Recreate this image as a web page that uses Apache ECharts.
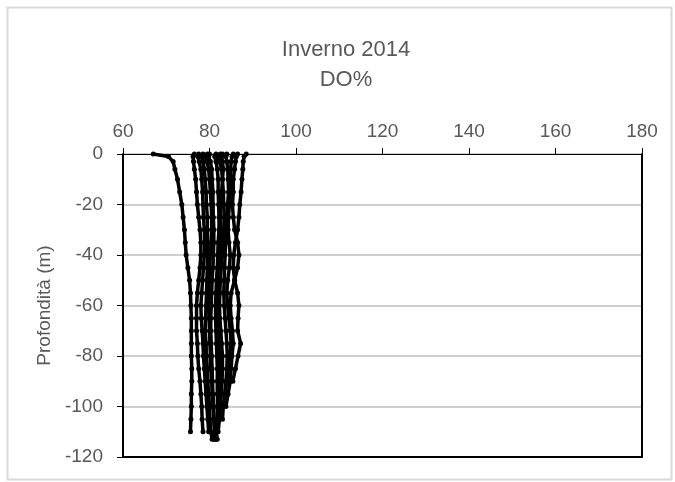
<!DOCTYPE html>
<html>
<head>
<meta charset="utf-8">
<script src="https://cdn.jsdelivr.net/npm/echarts@6/dist/echarts.min.js"></script>
<style>
  html, body { margin: 0; padding: 0; background: #fff; }
  #chart { width: 675px; height: 482px; }
</style>
</head>
<body>
<div id="chart"></div>
<script>
// profondita' (m) comuni a tutti i profili
var DEPTHS = [0, -1, -3, -6, -10, -15, -20, -25, -30, -35, -40, -45, -50, -55,
  -60, -65, -70, -75, -80, -85, -90, -95, -100, -105, -110, -113];

// DO% per profilo (un valore per profondita', fino alla fine del cast)
var P1 = [67, 70.5, 71.6, 72, 72.6, 73.1, 73.6, 73.9, 74.2, 74.4, 74.6, 75.0, 75.4, 75.6,
  75.7, 75.8, 75.8, 75.8, 75.8, 75.9, 75.9, 75.8, 75.8, 75.7, 75.6];
var P2 = [76.5, 76.2, 76.3, 76.5, 76.8, 77.0, 77.2, 77.5, 77.8, 78.0, 78.0, 77.8, 77.5, 77.2,
  77.0, 77.0, 77.0, 77.2, 77.3, 77.5, 77.8, 78.0, 78.2, 78.3, 78.5];
var P3 = [78.5, 78.2, 78.5, 78.8, 79.0, 79.2, 79.3, 79.5, 79.5, 79.6, 79.6, 79.5, 79.4, 79.3,
  79.2, 79.1, 79.0, 79.2, 79.3, 79.5, 79.6, 79.8, 80.0, 80.1, 80.3, 80.6];
var P4 = [80.0, 79.8, 80.2, 80.5, 80.6, 80.8, 80.8, 80.9, 81.0, 81.0, 80.9, 80.8, 80.6, 80.5,
  80.4, 80.3, 80.3, 80.4, 80.5, 80.6, 80.7, 80.8, 81.0, 81.0, 81.2, 81.4];
var P5 = [81.5, 81.2, 81.5, 81.8, 82.0, 82.0, 82.1, 82.2, 82.2, 82.0, 81.9, 81.8, 81.6, 81.5,
  81.4, 81.4, 81.5, 81.6, 81.7, 81.8, 81.8, 81.8, 81.9, 81.8, 81.6, 81.5];
var P6 = [82.5, 82.0, 82.3, 82.8, 83.0, 83.2, 83.3, 83.4, 83.3, 83.1, 82.9, 82.7, 82.5, 82.4,
  82.3, 82.4, 82.6, 82.8, 83.0, 83.0, 82.9, 82.7, 82.5, 82.3, 82.0];
var P7 = [84.0, 83.8, 84.0, 84.2, 84.3, 84.4, 84.2, 84.0, 83.8, 83.7, 83.6, 83.5, 83.4, 83.3,
  83.4, 83.6, 83.8, 84.0, 84.1, 84.0, 83.8, 83.5, 83.2, 83.0];
var P8 = [88.5, 88.0, 87.8, 87.7, 87.5, 87.3, 87.0, 86.8, 86.5, 86.0, 85.6, 85.5, 85.8, 86.5,
  86.8, 86.6, 86.5, 87.2, 86.6, 86.0, 85.4];
var P9 = [86.5, 86.2, 86.0, 85.8, 85.5, 85.5, 85.3, 85.5, 85.8, 86.5, 86.8, 86.5, 85.8, 85.0,
  84.8, 85.0, 85.3, 85.5, 85.2, 85.0, 84.8, 84.3, 83.8];
var P10 = [79.5, 79.0, 79.4, 79.8, 80.0, 80.2, 80.4, 80.5, 80.5, 80.4, 80.2, 80.0, 79.9, 79.8,
  79.8, 79.9, 80.0, 80.1, 80.2, 80.3, 80.5, 80.6, 80.8, 81.0, 81.2, 81.0];
var P11 = [83.0, 82.8, 83.0, 83.2, 83.0, 82.8, 82.6, 82.5, 82.6, 82.5, 82.3, 82.2, 82.0, 82.0,
  81.9, 82.0, 82.2, 82.3, 82.4, 82.3, 82.2, 82.1, 82.0, 81.8, 81.6, 81.8];
var P12 = [77.5, 77.3, 77.6, 78.0, 78.2, 78.4, 78.5, 78.6, 78.8, 78.9, 78.8, 78.6, 78.4, 78.2,
  78.0, 78.1, 78.3, 78.5, 78.6, 78.8, 79.0, 79.2, 79.4, 79.6, 79.8];
var P13 = [85.5, 85.2, 85.0, 84.9, 84.8, 84.8, 84.6, 84.4, 84.3, 84.5, 84.8, 84.6, 84.2, 84.0,
  84.2, 84.5, 84.8, 85.0, 84.6, 84.3, 84.0, 83.6];

var PROFILES = [P1, P2, P3, P4, P5, P6, P7, P8, P9, P10, P11, P12, P13];

var X_TICKS = [60, 80, 100, 120, 140, 160, 180];
var Y_TICKS = [0, -20, -40, -60, -80, -100, -120];

var FONT = "'Liberation Sans Narrow', 'Arial Narrow', 'Liberation Sans', sans-serif";
var TXT = '#595959';

var series = PROFILES.map(function (vals, i) {
  return {
    name: 'P' + (i + 1),
    type: 'line',
    xAxisIndex: 0,
    yAxisIndex: 0,
    symbol: 'circle',
    symbolSize: 5,
    showAllSymbol: true,
    itemStyle: { color: '#000' },
    lineStyle: { color: '#000', width: 3.5 },
    data: vals.map(function (v, k) { return [v, DEPTHS[k]]; })
  };
});

var chart = echarts.init(document.getElementById('chart'), null, { renderer: 'canvas' });
chart.setOption({
  animation: false,
  backgroundColor: '#fff',
  title: {
    text: 'Inverno 2014\nDO%',
    left: 341, top: 30, textAlign: 'center',
    textStyle: { fontFamily: FONT, fontSize: 22, fontWeight: 'normal', color: TXT, lineHeight: 30 }
  },
  graphic: [{
    type: 'rect', left: 5, top: 5, z: -1,
    shape: { width: 664, height: 472 },
    style: { fill: 'none', stroke: '#d9d9d9', lineWidth: 2 }
  }],
  grid: { left: 123, top: 154, right: 33, bottom: 25, containLabel: false },
  xAxis: [{
    type: 'value', position: 'top', min: X_TICKS[0], max: X_TICKS[X_TICKS.length - 1], interval: 20,
    axisLine: { show: true, onZero: false, lineStyle: { color: '#000', width: 1 } },
    axisTick: { show: true, inside: false, length: 6, lineStyle: { color: '#000', width: 1 } },
    axisLabel: { color: TXT, fontFamily: FONT, fontSize: 19, margin: 13 },
    splitLine: { show: false }
  }, {
    type: 'value', position: 'bottom', min: X_TICKS[0], max: X_TICKS[X_TICKS.length - 1],
    axisLine: { show: true, onZero: false, lineStyle: { color: '#000', width: 2 } },
    axisTick: { show: false }, axisLabel: { show: false }, splitLine: { show: false }
  }],
  yAxis: [{
    type: 'value', min: Y_TICKS[Y_TICKS.length - 1], max: Y_TICKS[0], interval: 20,
    name: 'Profondità (m)', nameLocation: 'middle', nameRotate: 90, nameGap: 54,
    nameTextStyle: { color: TXT, fontFamily: FONT, fontSize: 19 },
    axisLine: { show: true, onZero: false, lineStyle: { color: '#000', width: 2 } },
    axisTick: { show: true, inside: false, length: 6, lineStyle: { color: '#000', width: 1 } },
    axisLabel: { color: TXT, fontFamily: FONT, fontSize: 19, margin: 20 },
    splitLine: { show: true, lineStyle: { color: '#bfbfbf', width: 1.5 } }
  }, {
    type: 'value', position: 'right', min: Y_TICKS[Y_TICKS.length - 1], max: Y_TICKS[0],
    axisLine: { show: true, onZero: false, lineStyle: { color: '#000', width: 2 } },
    axisTick: { show: false }, axisLabel: { show: false }, splitLine: { show: false }
  }],
  series: series
});
</script>
</body>
</html>
